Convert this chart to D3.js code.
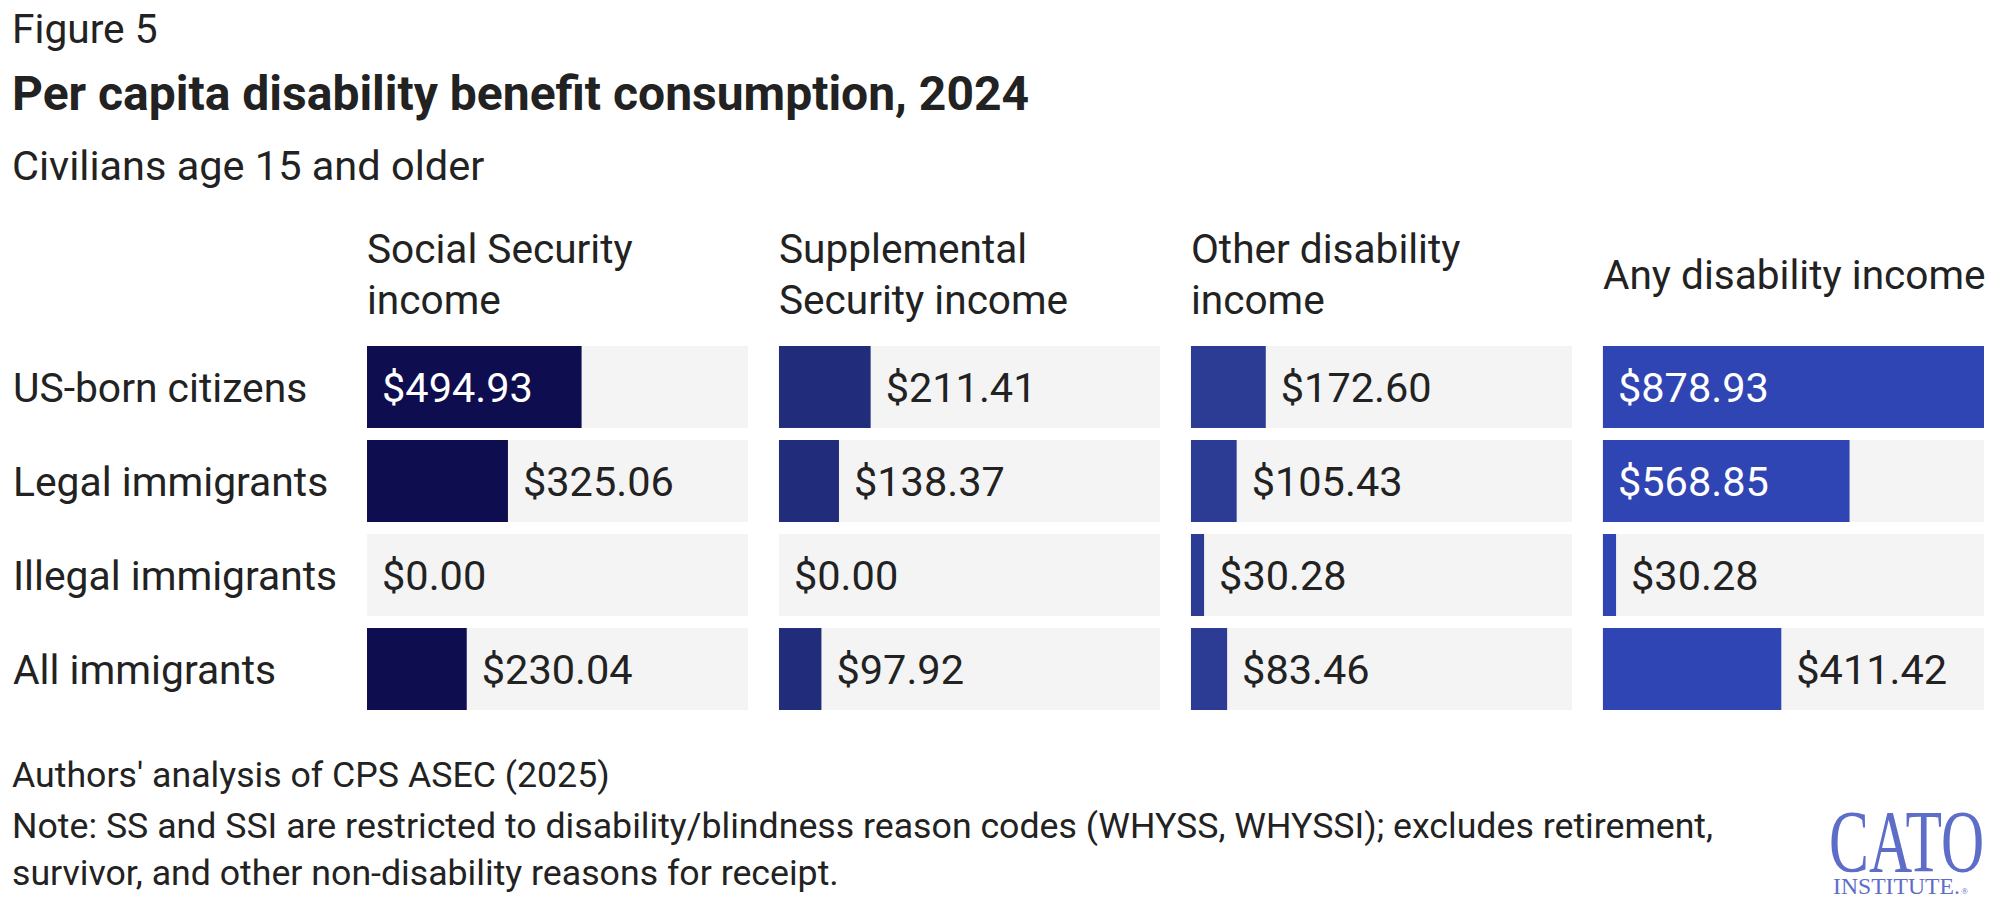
<!DOCTYPE html>
<html>
<head>
<meta charset="utf-8">
<script src="https://cdn.jsdelivr.net/npm/d3@7"></script>
<style>
  html, body { margin: 0; padding: 0; background: #fff; }
  svg { display: block; font-family: Roboto, "Noto Sans", sans-serif; }
</style>
</head>
<body>
<div id="chart"></div>
<script>
// Data
const groups = ['US-born citizens', 'Legal immigrants', 'Illegal immigrants', 'All immigrants'];
const benefitKeys = ['ss', 'ssi', 'other', 'any'];
const benefitHeaders = [
    ['Social Security', 'income'],
    ['Supplemental', 'Security income'],
    ['Other disability', 'income'],
    ['Any disability income']
];
const ssValues = [494.93, 325.06, 0.00, 230.04];
const ssiValues = [211.41, 138.37, 0.00, 97.92];
const otherValues = [172.60, 105.43, 30.28, 83.46];
const anyValues = [878.93, 568.85, 30.28, 411.42];

const seriesValues = [ssValues, ssiValues, otherValues, anyValues];
const barColors = ['#0e0d4f', '#212d7a', '#2c3c94', '#3045b4'];

const width = 1997, height = 908;
const textColor = '#222';

const svg = d3.select('#chart').append('svg')
    .attr('width', width)
    .attr('height', height);

// Titles
svg.append('text')
    .attr('x', 12).attr('y', 43)
    .attr('font-size', 40.7).attr('fill', textColor)
    .text('Figure 5');

svg.append('text')
    .attr('x', 12).attr('y', 110)
    .attr('font-size', 48).attr('font-weight', 'bold').attr('fill', textColor)
    .text('Per capita disability benefit consumption, 2024');

svg.append('text')
    .attr('x', 12).attr('y', 180)
    .attr('font-size', 41.5).attr('fill', textColor)
    .text('Civilians age 15 and older');

// Scales
const panelScale = d3.scaleBand()
    .domain(benefitKeys)
    .range([367, 1984])
    .paddingInner(0.075)
    .paddingOuter(0);

const rowScale = d3.scaleBand()
    .domain(groups)
    .range([346, 710])
    .paddingInner(0.128)
    .paddingOuter(0);

const maxValue = d3.max(seriesValues.flat());
const valueScale = d3.scaleLinear()
    .domain([0, maxValue])
    .range([0, panelScale.bandwidth()]);

const fmt = d3.format('$,.2f');

// Row labels
svg.append('g')
    .selectAll('text')
    .data(groups)
    .enter()
    .append('text')
    .attr('x', 13)
    .attr('y', d => rowScale(d) + rowScale.bandwidth() / 2)
    .attr('dy', '0.36em')
    .attr('font-size', 40.8)
    .attr('fill', textColor)
    .text(d => d);

// Panels
benefitKeys.forEach((key, i) => {
    const x0 = panelScale(key);
    const g = svg.append('g').attr('transform', `translate(${x0},0)`);

    // Column header (vertically centred on two-line block)
    const lines = benefitHeaders[i];
    const headerMid = 274.5;
    const lineH = 51;
    g.append('text')
        .attr('font-size', 40.6)
        .attr('fill', textColor)
        .selectAll('tspan')
        .data(lines)
        .enter()
        .append('tspan')
        .attr('x', 0)
        .attr('y', (d, j) => headerMid + 14 + (j - (lines.length - 1) / 2) * lineH)
        .text(d => d);

    const rows = groups.map((grp, j) => ({group: grp, value: seriesValues[i][j]}));

    // Background tracks
    g.selectAll('rect.track')
        .data(rows)
        .enter()
        .append('rect')
        .attr('class', 'track')
        .attr('x', 0)
        .attr('y', d => rowScale(d.group))
        .attr('width', panelScale.bandwidth())
        .attr('height', rowScale.bandwidth())
        .attr('fill', '#f4f4f4');

    // Bars
    g.selectAll('rect.bar')
        .data(rows)
        .enter()
        .append('rect')
        .attr('class', 'bar')
        .attr('x', 0)
        .attr('y', d => rowScale(d.group))
        .attr('width', d => valueScale(d.value))
        .attr('height', rowScale.bandwidth())
        .attr('fill', barColors[i]);

    // Value labels: inside (white) for long bars, outside otherwise
    const inside = d => d.value > maxValue / 2;
    g.selectAll('text.value')
        .data(rows)
        .enter()
        .append('text')
        .attr('class', 'value')
        .attr('x', d => inside(d) ? 15 : valueScale(d.value) + 15)
        .attr('y', d => rowScale(d.group) + rowScale.bandwidth() / 2)
        .attr('dy', '0.36em')
        .attr('font-size', 41.5)
        .attr('fill', d => inside(d) ? '#fff' : textColor)
        .text(d => fmt(d.value));
});

// Footer
svg.append('text')
    .attr('x', 12).attr('y', 787)
    .attr('font-size', 35.7).attr('fill', textColor)
    .text("Authors' analysis of CPS ASEC (2025)");

const noteLines = [
    'Note: SS and SSI are restricted to disability/blindness reason codes (WHYSS, WHYSSI); excludes retirement,',
    'survivor, and other non-disability reasons for receipt.'
];
svg.append('text')
    .attr('font-size', 35.7).attr('fill', textColor)
    .selectAll('tspan')
    .data(noteLines)
    .enter()
    .append('tspan')
    .attr('x', 12)
    .attr('y', (d, i) => 838 + i * 47)
    .text(d => d);

// Logo (serif wordmark, horizontally condensed)
const logo = svg.append('g').attr('fill', '#5e6ec8')
    .attr('font-family', '"Liberation Serif", "DejaVu Serif", serif');
logo.append('text')
    .attr('transform', 'translate(1829,871) scale(0.68,1)')
    .attr('font-size', 88)
    .text('CATO');
const inst = logo.append('text')
    .attr('transform', 'translate(1833,894) scale(1.03,1)')
    .attr('font-size', 23)
    .text('INSTITUTE.');
inst.append('tspan')
    .attr('font-size', 9)
    .attr('dx', 1)
    .text('®');
</script>
</body>
</html>
